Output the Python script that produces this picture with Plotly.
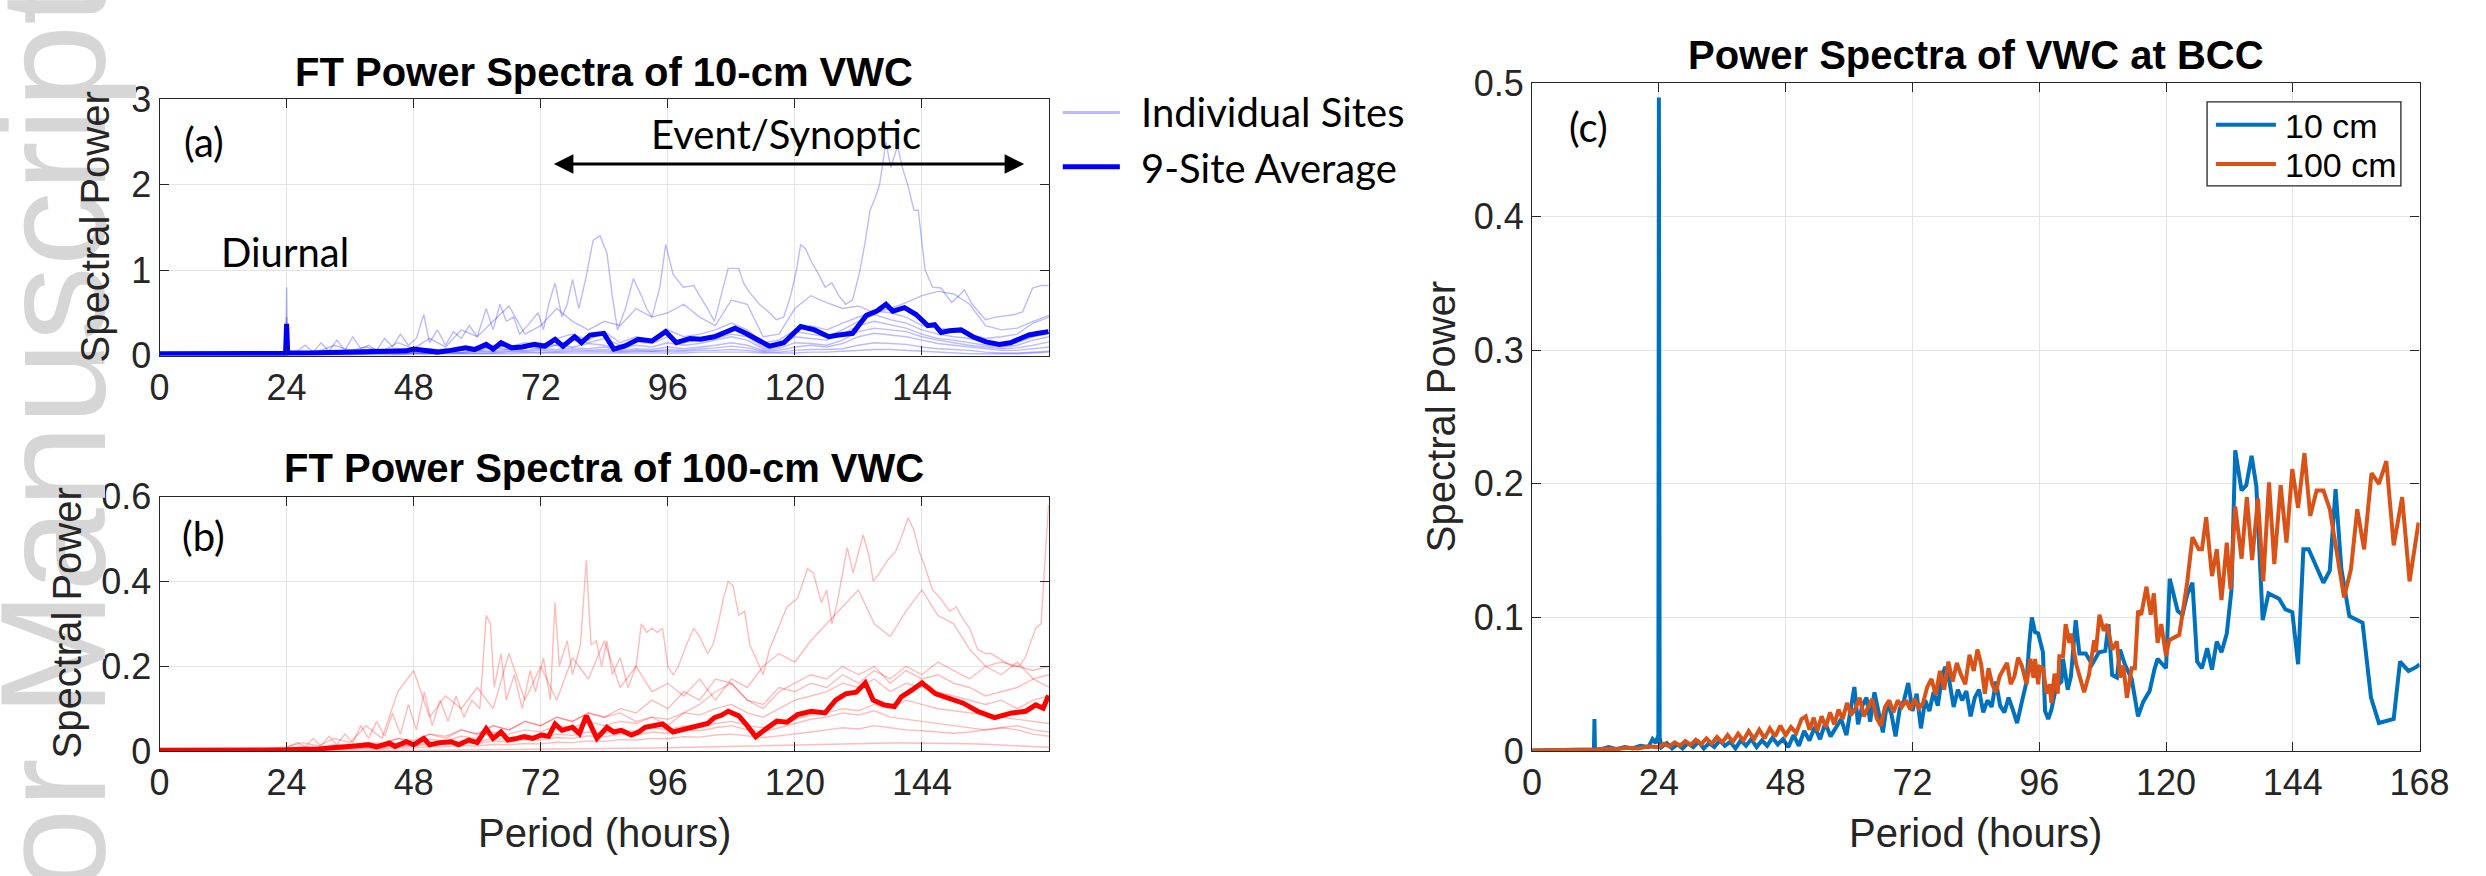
import plotly.graph_objects as go

W, H = 2486, 876

# ---------------- data ----------------
# panels (a) and (b): individual-site spectra (period in hours)
GRID_A = [0, 12, 23.8, 24, 24.2, 27, 30, 33, 36, 39, 42, 45, 48, 51, 54, 57, 60, 63, 66, 69, 72, 75,
          78, 81, 84, 87, 90, 93, 96, 99, 102, 105, 108, 111, 114, 117, 120, 123, 126, 129, 132, 135,
          138, 141, 144, 147, 150, 153, 156, 159, 162, 165, 168]
SITE_A1_PERIOD = [0, 12, 23.8, 24, 24.2, 26, 27.5, 29, 30.5, 32, 33.5, 35, 36.5, 38, 39.5, 41, 42.5, 44, 45.5, 47, 48.5, 49.9, 51, 52.5, 54, 55.5, 57, 58.5, 60, 61.7, 63, 64.3, 65.5, 66.9, 68, 69.5, 71.5, 72.5, 73.5, 74.7, 76, 77, 78, 79.2, 80.5, 81.9, 83.2, 84.5, 85.5, 86.5, 88, 89.5, 91, 92, 93, 94.5, 95.6, 97, 98.9, 100.9, 102, 103.5, 104.8, 106, 107.4, 109.4, 110.3, 111.3, 113.3, 115.2, 116.5, 117.9, 119.2, 120.3, 121.1, 122, 123.1, 124.5, 125.7, 127, 128.3, 129.6, 130.9, 132.2, 133.2, 134.2, 135.2, 136, 137.2, 138.1, 139.4, 140.3, 141.3, 142.5, 143.3, 144.6, 146, 147.6, 149.6, 151, 152, 153.5, 156, 158, 160, 161.5, 163, 164.9, 166.5, 167.9]
SITE_A1 = [0.02, 0.02, 0.03, 0.80, 0.04, 0.05, 0.12, 0.04, 0.15, 0.05, 0.18, 0.06, 0.22, 0.08, 0.12, 0.06, 0.20, 0.10, 0.25, 0.12, 0.20, 0.48, 0.15, 0.30, 0.12, 0.28, 0.20, 0.35, 0.22, 0.55, 0.30, 0.60, 0.40, 0.45, 0.25, 0.35, 0.50, 0.30, 0.60, 0.85, 0.45, 0.60, 0.89, 0.55, 0.90, 1.35, 1.40, 1.20, 0.70, 0.30, 0.55, 0.90, 0.70, 0.55, 0.45, 0.80, 1.30, 0.95, 0.80, 0.82, 0.70, 0.55, 0.40, 0.70, 1.02, 1.02, 0.85, 0.75, 0.60, 0.50, 0.42, 0.45, 0.70, 1.00, 1.30, 1.25, 1.10, 0.95, 0.80, 0.85, 0.70, 0.60, 0.65, 0.97, 1.30, 1.70, 1.85, 2.00, 2.50, 2.20, 2.45, 2.20, 2.00, 1.70, 1.70, 1.00, 0.80, 0.79, 0.62, 0.70, 0.77, 0.60, 0.42, 0.45, 0.47, 0.48, 0.51, 0.79, 0.82, 0.82]
SITE_A2 = [0.02, 0.02, 0.02, 0.45, 0.03, 0.04, 0.05, 0.12, 0.06, 0.10, 0.05, 0.15, 0.08, 0.20, 0.10, 0.30, 0.22, 0.40, 0.58, 0.25, 0.35, 0.55, 0.40, 0.30, 0.40, 0.35, 0.55, 0.45, 0.50, 0.60, 0.45, 0.35, 0.65, 0.60, 0.22, 0.25, 0.55, 0.70, 0.62, 0.55, 0.58, 0.50, 0.55, 0.62, 0.70, 0.75, 0.72, 0.60, 0.35, 0.30, 0.32, 0.40, 0.47]
SITE_A3 = [0.01, 0.01, 0.02, 0.30, 0.02, 0.03, 0.04, 0.03, 0.06, 0.04, 0.05, 0.07, 0.05, 0.08, 0.06, 0.10, 0.08, 0.12, 0.10, 0.15, 0.12, 0.20, 0.25, 0.18, 0.28, 0.15, 0.22, 0.18, 0.30, 0.22, 0.25, 0.30, 0.38, 0.30, 0.15, 0.18, 0.30, 0.35, 0.30, 0.38, 0.45, 0.52, 0.50, 0.45, 0.35, 0.32, 0.30, 0.25, 0.20, 0.22, 0.25, 0.38, 0.45]
SITE_A4 = [0.01, 0.01, 0.01, 0.25, 0.01, 0.02, 0.03, 0.02, 0.04, 0.03, 0.05, 0.04, 0.06, 0.05, 0.08, 0.06, 0.10, 0.08, 0.12, 0.09, 0.14, 0.12, 0.18, 0.15, 0.20, 0.12, 0.16, 0.14, 0.22, 0.15, 0.18, 0.20, 0.25, 0.22, 0.10, 0.12, 0.28, 0.25, 0.22, 0.30, 0.40, 0.48, 0.42, 0.38, 0.30, 0.25, 0.22, 0.20, 0.15, 0.12, 0.15, 0.22, 0.26]
SITE_A5 = [0.01, 0.01, 0.01, 0.35, 0.01, 0.02, 0.02, 0.03, 0.02, 0.04, 0.03, 0.05, 0.04, 0.06, 0.05, 0.07, 0.06, 0.09, 0.07, 0.10, 0.08, 0.12, 0.10, 0.14, 0.12, 0.08, 0.12, 0.10, 0.15, 0.12, 0.14, 0.18, 0.22, 0.18, 0.08, 0.10, 0.22, 0.20, 0.18, 0.25, 0.35, 0.40, 0.36, 0.32, 0.25, 0.20, 0.18, 0.15, 0.12, 0.10, 0.12, 0.18, 0.22]
SITE_A6 = [0.01, 0.01, 0.01, 0.20, 0.01, 0.01, 0.02, 0.02, 0.03, 0.02, 0.03, 0.03, 0.04, 0.03, 0.05, 0.04, 0.06, 0.05, 0.07, 0.06, 0.08, 0.07, 0.09, 0.08, 0.10, 0.06, 0.08, 0.07, 0.10, 0.08, 0.10, 0.12, 0.15, 0.12, 0.06, 0.08, 0.15, 0.14, 0.12, 0.18, 0.28, 0.32, 0.30, 0.28, 0.22, 0.18, 0.15, 0.12, 0.10, 0.08, 0.09, 0.12, 0.16]
SITE_A7 = [0.01, 0.01, 0.01, 0.15, 0.01, 0.01, 0.01, 0.02, 0.02, 0.02, 0.03, 0.02, 0.03, 0.03, 0.04, 0.03, 0.05, 0.04, 0.05, 0.05, 0.06, 0.05, 0.07, 0.06, 0.07, 0.05, 0.06, 0.05, 0.07, 0.06, 0.08, 0.09, 0.11, 0.09, 0.05, 0.06, 0.10, 0.12, 0.10, 0.14, 0.22, 0.26, 0.24, 0.22, 0.18, 0.14, 0.12, 0.10, 0.08, 0.06, 0.06, 0.08, 0.10]
SITE_A8 = [0.01, 0.01, 0.01, 0.10, 0.01, 0.01, 0.01, 0.01, 0.01, 0.02, 0.02, 0.02, 0.02, 0.02, 0.03, 0.03, 0.03, 0.03, 0.04, 0.04, 0.04, 0.04, 0.05, 0.05, 0.05, 0.04, 0.05, 0.05, 0.05, 0.05, 0.06, 0.06, 0.07, 0.06, 0.04, 0.04, 0.06, 0.07, 0.07, 0.08, 0.12, 0.15, 0.14, 0.13, 0.10, 0.08, 0.07, 0.06, 0.04, 0.03, 0.03, 0.04, 0.05]
SITE_A9 = [0.01, 0.01, 0.01, 0.12, 0.01, 0.01, 0.01, 0.01, 0.01, 0.01, 0.01, 0.01, 0.02, 0.02, 0.02, 0.02, 0.02, 0.02, 0.02, 0.03, 0.03, 0.03, 0.03, 0.03, 0.03, 0.03, 0.03, 0.03, 0.03, 0.03, 0.04, 0.04, 0.04, 0.04, 0.03, 0.03, 0.03, 0.04, 0.04, 0.05, 0.06, 0.07, 0.07, 0.06, 0.05, 0.04, 0.03, 0.02, 0.02, 0.02, 0.02, 0.03, 0.04]

AVG_A_PERIOD = [0, 12, 23.8, 24.0, 24.2, 28, 32, 36, 40, 44, 46.6, 48, 50, 52.5, 55, 57.8, 59.5, 61.7, 63, 64.5, 66.5, 68.5, 70.8, 72.8, 74.7, 76.2, 78.4, 79.7, 81.3, 83.9, 85.8, 87.8, 90.4, 93, 95.6, 97.6, 100.2, 102.2, 104.8, 106.8, 108.7, 110.7, 112.6, 115.2, 117.9, 121.1, 123.7, 126.4, 128.3, 130.9, 133.5, 135.5, 137.2, 138.5, 140.7, 142.9, 145.1, 146.4, 147.6, 149.2, 151.4, 153.6, 156.1, 158.6, 160.7, 162.5, 164.2, 166, 167.9]
AVG_A_POWER = [0.02, 0.02, 0.025, 0.37, 0.03, 0.03, 0.035, 0.04, 0.04, 0.05, 0.055, 0.075, 0.06, 0.04, 0.06, 0.09, 0.07, 0.13, 0.075, 0.15, 0.09, 0.10, 0.13, 0.11, 0.19, 0.11, 0.22, 0.15, 0.24, 0.26, 0.075, 0.11, 0.19, 0.17, 0.28, 0.15, 0.20, 0.19, 0.22, 0.27, 0.32, 0.26, 0.19, 0.11, 0.15, 0.34, 0.30, 0.22, 0.24, 0.26, 0.47, 0.52, 0.60, 0.52, 0.56, 0.48, 0.35, 0.36, 0.27, 0.29, 0.30, 0.22, 0.16, 0.13, 0.15, 0.20, 0.24, 0.26, 0.28]

GRID_B = [0, 12, 18, 24, 27, 30, 33, 36, 39, 42, 45, 48, 51, 54, 57, 60, 63, 66, 69, 72, 75, 78, 81,
          84, 87, 90, 93, 96, 99, 102, 105, 108, 111, 114, 117, 120, 123, 126, 129, 132, 135, 138, 141,
          144, 147, 150, 153, 156, 159, 162, 165, 168]
SITE_B1_PERIOD = [0, 12, 18, 24, 26, 27.5, 29, 30.5, 32, 33.5, 35, 36.5, 38, 39.5, 41, 42.5, 44, 45.5, 47, 48.5, 50, 51.5, 53, 54.5, 56, 57.5, 59, 60.5, 61.7, 62.5, 63.2, 64.5, 65.5, 67, 68.5, 70, 71, 72.5, 73.8, 74.7, 75.5, 77, 78, 79.5, 80.6, 81.5, 82.5, 83.5, 84.5, 85.5, 87, 88.5, 90, 91, 92, 93, 94, 95, 96, 97, 98, 99.5, 100.9, 102, 103.5, 104.5, 105.5, 106.5, 107.4, 108.3, 109.4, 110.5, 111.5, 112.6, 114, 115.2, 116.5, 118.5, 120.5, 122.4, 123.5, 125, 126, 127, 128, 129.9, 131, 132.9, 134, 134.8, 136, 137.5, 139, 140, 141.4, 142.5, 143.5, 144.7, 146, 147.5, 149.2, 150.5, 151.8, 153, 154.5, 156, 157, 158.5, 159.7, 161, 162.3, 163.5, 165.5, 166.5, 167.5, 167.9]
SITE_B1 = [0.001, 0.002, 0.004, 0.008, 0.02, 0.01, 0.03, 0.012, 0.035, 0.015, 0.04, 0.02, 0.06, 0.03, 0.07, 0.035, 0.09, 0.04, 0.11, 0.05, 0.14, 0.06, 0.12, 0.07, 0.13, 0.08, 0.12, 0.10, 0.32, 0.30, 0.15, 0.23, 0.12, 0.18, 0.10, 0.19, 0.14, 0.22, 0.12, 0.35, 0.20, 0.26, 0.18, 0.25, 0.45, 0.25, 0.26, 0.20, 0.26, 0.18, 0.22, 0.15, 0.20, 0.30, 0.28, 0.29, 0.28, 0.29, 0.20, 0.18, 0.20, 0.25, 0.29, 0.27, 0.23, 0.25, 0.30, 0.36, 0.40, 0.39, 0.32, 0.33, 0.25, 0.22, 0.18, 0.24, 0.28, 0.34, 0.36, 0.43, 0.42, 0.35, 0.38, 0.30, 0.35, 0.48, 0.42, 0.51, 0.46, 0.40, 0.42, 0.45, 0.47, 0.50, 0.55, 0.52, 0.47, 0.43, 0.38, 0.36, 0.33, 0.34, 0.31, 0.29, 0.24, 0.23, 0.23, 0.22, 0.21, 0.20, 0.20, 0.22, 0.29, 0.30, 0.50, 0.58]
SITE_B2 = [0.001, 0.002, 0.004, 0.01, 0.02, 0.012, 0.03, 0.02, 0.06, 0.03, 0.14, 0.19, 0.08, 0.13, 0.10, 0.15, 0.10, 0.23, 0.12, 0.20, 0.12, 0.22, 0.17, 0.26, 0.15, 0.20, 0.14, 0.16, 0.13, 0.17, 0.12, 0.17, 0.15, 0.20, 0.23, 0.21, 0.26, 0.30, 0.34, 0.38, 0.30, 0.27, 0.33, 0.38, 0.32, 0.30, 0.24, 0.20, 0.18, 0.21, 0.17, 0.18]
SITE_B3 = [0.001, 0.002, 0.003, 0.005, 0.008, 0.006, 0.012, 0.01, 0.02, 0.015, 0.03, 0.02, 0.04, 0.03, 0.05, 0.04, 0.06, 0.05, 0.07, 0.06, 0.08, 0.07, 0.09, 0.08, 0.10, 0.09, 0.12, 0.10, 0.14, 0.12, 0.17, 0.16, 0.12, 0.10, 0.14, 0.16, 0.18, 0.17, 0.20, 0.18, 0.20, 0.16, 0.19, 0.17, 0.18, 0.16, 0.15, 0.13, 0.14, 0.15, 0.17, 0.15]
SITE_B4 = [0.001, 0.001, 0.002, 0.004, 0.006, 0.005, 0.009, 0.008, 0.014, 0.012, 0.02, 0.018, 0.028, 0.024, 0.035, 0.03, 0.045, 0.04, 0.05, 0.045, 0.06, 0.055, 0.07, 0.06, 0.07, 0.065, 0.08, 0.075, 0.09, 0.085, 0.10, 0.11, 0.09, 0.08, 0.10, 0.12, 0.13, 0.14, 0.16, 0.15, 0.17, 0.14, 0.16, 0.15, 0.14, 0.13, 0.12, 0.11, 0.12, 0.10, 0.12, 0.13]
SITE_B5 = [0.001, 0.001, 0.002, 0.003, 0.004, 0.004, 0.006, 0.006, 0.009, 0.008, 0.012, 0.011, 0.016, 0.015, 0.02, 0.018, 0.024, 0.022, 0.028, 0.026, 0.032, 0.03, 0.036, 0.034, 0.04, 0.038, 0.045, 0.042, 0.05, 0.048, 0.055, 0.06, 0.05, 0.045, 0.055, 0.065, 0.075, 0.08, 0.09, 0.085, 0.095, 0.08, 0.075, 0.07, 0.065, 0.06, 0.055, 0.05, 0.055, 0.06, 0.05, 0.045]
SITE_B6 = [0.001, 0.001, 0.001, 0.002, 0.003, 0.003, 0.004, 0.004, 0.006, 0.005, 0.008, 0.007, 0.01, 0.01, 0.013, 0.012, 0.016, 0.015, 0.018, 0.017, 0.021, 0.02, 0.024, 0.023, 0.027, 0.026, 0.03, 0.029, 0.034, 0.033, 0.038, 0.04, 0.036, 0.032, 0.036, 0.04, 0.045, 0.05, 0.055, 0.052, 0.06, 0.055, 0.05, 0.048, 0.045, 0.042, 0.045, 0.05, 0.055, 0.05, 0.04, 0.035]
SITE_B7 = [0.001, 0.002, 0.003, 0.006, 0.01, 0.008, 0.015, 0.012, 0.02, 0.018, 0.03, 0.025, 0.04, 0.035, 0.05, 0.04, 0.06, 0.05, 0.07, 0.06, 0.08, 0.07, 0.09, 0.08, 0.09, 0.07, 0.08, 0.06, 0.09, 0.11, 0.14, 0.16, 0.12, 0.11, 0.15, 0.14, 0.16, 0.15, 0.18, 0.16, 0.19, 0.17, 0.20, 0.18, 0.21, 0.19, 0.17, 0.20, 0.21, 0.20, 0.19, 0.20]
SITE_B8 = [0.0005, 0.0005, 0.0005, 0.0008, 0.001, 0.001, 0.0012, 0.0012, 0.0014, 0.0015, 0.0016, 0.0018, 0.002, 0.0022, 0.0025, 0.0028, 0.003, 0.0033, 0.0036, 0.004, 0.0043, 0.0047, 0.005, 0.0055, 0.006, 0.0066, 0.0072, 0.008, 0.0088, 0.0096, 0.0105, 0.0115, 0.0125, 0.0135, 0.0145, 0.0155, 0.0163, 0.017, 0.0177, 0.0183, 0.0187, 0.019, 0.0191, 0.019, 0.0186, 0.018, 0.0172, 0.016, 0.0145, 0.0128, 0.011, 0.009]
SITE_B9 = [0.001, 0.001, 0.002, 0.004, 0.006, 0.005, 0.008, 0.007, 0.011, 0.01, 0.015, 0.013, 0.02, 0.018, 0.024, 0.022, 0.03, 0.027, 0.035, 0.032, 0.04, 0.037, 0.045, 0.042, 0.05, 0.047, 0.055, 0.05, 0.06, 0.055, 0.065, 0.07, 0.06, 0.055, 0.065, 0.075, 0.085, 0.09, 0.10, 0.095, 0.11, 0.10, 0.12, 0.11, 0.10, 0.095, 0.09, 0.085, 0.08, 0.075, 0.07, 0.065]

AVG_B_PERIOD = [0, 12, 24, 30, 34, 36.8, 39.5, 41, 43.4, 44.5, 46.6, 48, 49.9, 51, 53, 55.1, 56.5, 58.4, 60, 61.7, 63, 64.5, 65.8, 67.5, 68.9, 70.5, 72.1, 73.5, 74.7, 76, 78, 79.3, 80.6, 82.6, 84.5, 85.8, 87.2, 89.1, 90.5, 91.7, 93.5, 95, 97, 98.5, 100.2, 102.2, 103.5, 104.8, 106.2, 107.4, 109.4, 111, 112.6, 114.6, 116.6, 118.5, 120.5, 123.1, 125.7, 127.7, 129.6, 131.6, 133.3, 134.8, 136.8, 138.8, 140.1, 142, 144, 146.6, 149.2, 151.8, 154.5, 157.7, 161, 163.6, 165.5, 166.9, 167.9]
AVG_B_POWER = [0.002, 0.002, 0.003, 0.005, 0.008, 0.011, 0.015, 0.010, 0.019, 0.011, 0.022, 0.015, 0.030, 0.015, 0.020, 0.022, 0.015, 0.026, 0.020, 0.053, 0.030, 0.045, 0.026, 0.030, 0.034, 0.030, 0.038, 0.035, 0.064, 0.049, 0.056, 0.041, 0.083, 0.030, 0.056, 0.045, 0.049, 0.038, 0.045, 0.056, 0.060, 0.064, 0.045, 0.050, 0.056, 0.060, 0.065, 0.079, 0.085, 0.094, 0.083, 0.060, 0.034, 0.053, 0.071, 0.068, 0.086, 0.094, 0.090, 0.120, 0.135, 0.139, 0.161, 0.120, 0.109, 0.105, 0.128, 0.143, 0.161, 0.135, 0.124, 0.113, 0.094, 0.079, 0.090, 0.094, 0.109, 0.101, 0.131]

# panel (c): BCC site
C10_PERIOD = [0, 2, 4, 6, 8, 10, 11.7, 11.8, 11.9, 13, 14.5, 16, 17.5, 19, 20.5, 22, 22.8, 23.4, 23.9, 24.0, 24.15, 24.5, 25.5, 26.5, 27.5, 28.5, 29.5, 30.5, 31.5, 32.5, 33.5, 34.5, 35.5, 36.5, 37.5, 38.5, 39.5, 40.5, 41.5, 42.5, 43.5, 44.5, 45.5, 46.5, 47.5, 48.5, 49.5, 50.5, 51.5, 52.5, 53.5, 54.5, 55.5, 56.5, 57.5, 58.5, 59.5, 60.3, 61.0, 61.7, 62.5, 63.3, 64.0, 64.8, 65.6, 66.4, 67.2, 68.0, 68.8, 69.6, 70.4, 71.2, 72.0, 72.8, 73.6, 74.4, 75.2, 76.0, 76.8, 77.6, 78.2, 79.0, 79.8, 80.6, 81.4, 82.2, 83.0, 83.8, 84.6, 85.4, 86.2, 87.0, 87.8, 88.6, 89.4, 90.2, 91.0, 91.8, 92.6, 93.2, 93.6, 94.1, 94.6, 95.2, 95.8, 96.7, 97.1, 97.7, 98.3, 99.2, 100.2, 100.5, 101.4, 102.0, 102.9, 103.6, 104.8, 106.0, 107.3, 108.5, 109.1, 109.8, 110.7, 111.3, 112.2, 113.5, 114.7, 115.7, 116.9, 117.8, 118.4, 120.0, 120.7, 122.2, 123.1, 124.0, 125.0, 125.9, 126.8, 127.8, 128.7, 129.6, 130.5, 131.5, 132.4, 133.1, 134.3, 135.2, 136.2, 137.1, 138.3, 139.4, 141.4, 142.6, 143.9, 145.0, 146.0, 147.0, 149.8, 151.0, 152.1, 153.2, 154.7, 157.2, 158.8, 160.3, 163.1, 164.3, 165.9, 167.4, 168.0]
C10_POWER = [0.0005, 0.0005, 0.0006, 0.0006, 0.0008, 0.0010, 0.0012, 0.024, 0.0012, 0.0015, 0.003, 0.0015, 0.003, 0.002, 0.004, 0.003, 0.009, 0.006, 0.012, 0.489, 0.010, 0.003, 0.006, 0.002, 0.005, 0.002, 0.006, 0.003, 0.007, 0.002, 0.006, 0.003, 0.008, 0.004, 0.007, 0.002, 0.008, 0.004, 0.009, 0.003, 0.008, 0.004, 0.010, 0.005, 0.009, 0.003, 0.012, 0.004, 0.015, 0.008, 0.018, 0.009, 0.021, 0.011, 0.017, 0.024, 0.012, 0.030, 0.048, 0.020, 0.034, 0.040, 0.022, 0.044, 0.030, 0.014, 0.036, 0.028, 0.011, 0.032, 0.038, 0.051, 0.030, 0.043, 0.017, 0.038, 0.030, 0.044, 0.034, 0.056, 0.063, 0.052, 0.033, 0.046, 0.038, 0.045, 0.026, 0.040, 0.046, 0.029, 0.038, 0.033, 0.052, 0.034, 0.029, 0.040, 0.031, 0.021, 0.035, 0.045, 0.052, 0.080, 0.100, 0.089, 0.088, 0.074, 0.030, 0.024, 0.031, 0.048, 0.052, 0.069, 0.046, 0.056, 0.098, 0.073, 0.073, 0.065, 0.074, 0.075, 0.095, 0.057, 0.055, 0.076, 0.065, 0.054, 0.026, 0.037, 0.045, 0.061, 0.069, 0.062, 0.129, 0.105, 0.102, 0.117, 0.126, 0.067, 0.062, 0.077, 0.061, 0.082, 0.074, 0.088, 0.121, 0.225, 0.195, 0.199, 0.221, 0.198, 0.098, 0.118, 0.114, 0.106, 0.104, 0.065, 0.151, 0.151, 0.126, 0.135, 0.196, 0.136, 0.101, 0.096, 0.040, 0.021, 0.024, 0.067, 0.060, 0.063, 0.065]
C100_PERIOD = [0, 3, 6, 9, 12, 14, 16, 18, 20, 22, 24, 25, 26, 27, 28, 29, 30, 31, 32, 33, 34, 35, 36, 37, 38, 39, 40, 41, 42, 43, 44, 45, 46, 47, 48, 49, 50, 51, 51.8, 52.5, 53.3, 54, 54.8, 55.6, 56.4, 57.2, 58, 58.8, 59.6, 60.4, 61.2, 62, 62.8, 63.6, 64.4, 65.2, 66, 66.8, 67.6, 68.4, 69.2, 70, 70.8, 71.6, 72.4, 73.2, 74, 74.8, 75.6, 76.4, 77.2, 78, 78.8, 79.6, 80.4, 81.2, 82, 82.8, 83.6, 84.3, 85, 85.7, 86.4, 87.1, 87.8, 88.5, 89.2, 89.9, 90.6, 91.3, 92, 92.7, 93.6, 94.3, 94.9, 95.2, 95.8, 96.1, 96.7, 97.4, 98.0, 98.3, 98.9, 99.5, 99.8, 100.5, 101.0, 101.7, 102.0, 103.0, 104.5, 105.4, 106.4, 106.7, 107.4, 108.2, 108.8, 109.8, 110.7, 111.3, 111.9, 112.6, 113.5, 114.1, 114.7, 115.3, 116.3, 117.1, 117.7, 118.4, 119.1, 120.0, 120.6, 122.5, 124.0, 125.0, 126.2, 126.8, 127.6, 128.7, 129.6, 130.5, 131.5, 132.2, 133.1, 134.3, 135.3, 136.3, 137.4, 138.4, 139.5, 140.5, 141.7, 142.8, 143.9, 145.0, 146.2, 147.3, 148.5, 149.8, 151.0, 152.2, 153.7, 155.0, 156.2, 157.5, 158.9, 160.3, 161.7, 163.1, 164.7, 166.1, 167.8]
C100_POWER = [0.0005, 0.0006, 0.0008, 0.0010, 0.0012, 0.0018, 0.0015, 0.0025, 0.0020, 0.0035, 0.0030, 0.0055, 0.0035, 0.0065, 0.0040, 0.0075, 0.0045, 0.0085, 0.0050, 0.0095, 0.0055, 0.0105, 0.0065, 0.0120, 0.0070, 0.0130, 0.0080, 0.0150, 0.0090, 0.0160, 0.0095, 0.0170, 0.0110, 0.0190, 0.0120, 0.0180, 0.0135, 0.0240, 0.0260, 0.0160, 0.0250, 0.0150, 0.0260, 0.0180, 0.0290, 0.0200, 0.0310, 0.0240, 0.0360, 0.0270, 0.0320, 0.0400, 0.0260, 0.0330, 0.0390, 0.0250, 0.0190, 0.0330, 0.0380, 0.0290, 0.0380, 0.0330, 0.0380, 0.0310, 0.0390, 0.0320, 0.0360, 0.0480, 0.0540, 0.0420, 0.0600, 0.0460, 0.0670, 0.0520, 0.0660, 0.0570, 0.0500, 0.0720, 0.0600, 0.0760, 0.0650, 0.0430, 0.0620, 0.0500, 0.0440, 0.0560, 0.0610, 0.0660, 0.0500, 0.0560, 0.0700, 0.0640, 0.050, 0.069, 0.055, 0.069, 0.050, 0.063, 0.062, 0.043, 0.050, 0.036, 0.058, 0.043, 0.071, 0.071, 0.095, 0.081, 0.088, 0.065, 0.044, 0.057, 0.083, 0.074, 0.102, 0.090, 0.095, 0.076, 0.082, 0.055, 0.064, 0.040, 0.062, 0.062, 0.105, 0.102, 0.123, 0.102, 0.118, 0.081, 0.095, 0.071, 0.083, 0.087, 0.126, 0.160, 0.151, 0.151, 0.175, 0.131, 0.151, 0.113, 0.156, 0.121, 0.183, 0.144, 0.190, 0.143, 0.189, 0.127, 0.201, 0.140, 0.199, 0.156, 0.211, 0.182, 0.223, 0.176, 0.195, 0.195, 0.181, 0.151, 0.115, 0.136, 0.181, 0.151, 0.208, 0.200, 0.217, 0.154, 0.190, 0.127, 0.171]

SITES_A = [(SITE_A1_PERIOD, SITE_A1), (GRID_A, SITE_A2), (GRID_A, SITE_A3), (GRID_A, SITE_A4),
           (GRID_A, SITE_A5), (GRID_A, SITE_A6), (GRID_A, SITE_A7), (GRID_A, SITE_A8), (GRID_A, SITE_A9)]
SITES_B = [(SITE_B1_PERIOD, SITE_B1), (GRID_B, SITE_B2), (GRID_B, SITE_B3), (GRID_B, SITE_B4),
           (GRID_B, SITE_B5), (GRID_B, SITE_B6), (GRID_B, SITE_B7), (GRID_B, SITE_B8), (GRID_B, SITE_B9)]
for p, s in SITES_A + SITES_B:
    assert len(p) == len(s)
assert len(AVG_A_PERIOD) == len(AVG_A_POWER)
assert len(AVG_B_PERIOD) == len(AVG_B_POWER)
assert len(C10_PERIOD) == len(C10_POWER)
assert len(C100_PERIOD) == len(C100_POWER)

X_TICKS_AB = [0, 24, 48, 72, 96, 120, 144]
X_TICKS_C = [0, 24, 48, 72, 96, 120, 144, 168]
Y_TICKS_A = [0, 1, 2, 3]
Y_TICKS_B = [0, 0.2, 0.4, 0.6]
Y_TICK_TEXT_B = ["0", "0.2", "0.4", "0.6"]
Y_TICKS_C = [0, 0.1, 0.2, 0.3, 0.4, 0.5]
Y_TICK_TEXT_C = ["0", "0.1", "0.2", "0.3", "0.4", "0.5"]

# ---------------- figure ----------------
LIGHT_BLUE = "rgba(0,0,255,0.27)"
DARK_BLUE = "#0000f5"
LIGHT_RED = "rgba(255,0,0,0.27)"
DARK_RED = "#ff0000"
C_BLUE = "#0072bd"
C_ORANGE = "#d95319"

fig = go.Figure()
for p, s in SITES_A:
    fig.add_trace(go.Scatter(x=p, y=s, mode="lines", line=dict(color=LIGHT_BLUE, width=1.4),
                             xaxis="x", yaxis="y", showlegend=False, hoverinfo="skip"))
fig.add_trace(go.Scatter(x=AVG_A_PERIOD, y=AVG_A_POWER, mode="lines", line=dict(color=DARK_BLUE, width=5),
                         xaxis="x", yaxis="y", showlegend=False))
for p, s in SITES_B:
    fig.add_trace(go.Scatter(x=p, y=s, mode="lines", line=dict(color=LIGHT_RED, width=1.4),
                             xaxis="x2", yaxis="y2", showlegend=False, hoverinfo="skip"))
fig.add_trace(go.Scatter(x=AVG_B_PERIOD, y=AVG_B_POWER, mode="lines", line=dict(color=DARK_RED, width=5),
                         xaxis="x2", yaxis="y2", showlegend=False))
fig.add_trace(go.Scatter(x=C10_PERIOD, y=C10_POWER, mode="lines", line=dict(color=C_BLUE, width=4),
                         xaxis="x3", yaxis="y3", showlegend=False, name="10 cm"))
fig.add_trace(go.Scatter(x=C100_PERIOD, y=C100_POWER, mode="lines", line=dict(color=C_ORANGE, width=4),
                         xaxis="x3", yaxis="y3", showlegend=False, name="100 cm"))

AX = dict(showline=True, linecolor="#262626", linewidth=1.3, mirror="ticks", ticks="inside",
          ticklen=9, tickwidth=1.3, tickcolor="#262626", showgrid=True, gridcolor="#e4e4e4",
          gridwidth=1.3, zeroline=False, fixedrange=True,
          tickfont=dict(family="Liberation Sans, Arial, sans-serif", size=36, color="#262626"))

def px(v):
    return v / W

def py(v):
    return 1 - v / H

AB_DOM = [px(152), px(1056)]
C_DOM = [px(1547), px(2449)]

fig.update_layout(
    width=W, height=H, margin=dict(l=0, r=0, t=0, b=0),
    paper_bgcolor="white", plot_bgcolor="white", showlegend=False,
    xaxis=dict(AX, domain=AB_DOM, range=[0, 168], tickvals=X_TICKS_AB, anchor="y"),
    yaxis=dict(AX, domain=[py(352), py(83)], range=[0, 3], tickvals=Y_TICKS_A, anchor="x"),
    xaxis2=dict(AX, domain=AB_DOM, range=[0, 168], tickvals=X_TICKS_AB, anchor="y2"),
    yaxis2=dict(AX, domain=[py(767), py(500)], range=[0, 0.6], tickvals=Y_TICKS_B,
                ticktext=Y_TICK_TEXT_B, anchor="x2"),
    xaxis3=dict(AX, domain=C_DOM, range=[0, 168], tickvals=X_TICKS_C, anchor="y3"),
    yaxis3=dict(AX, domain=[py(767), py(66)], range=[0, 0.5], tickvals=Y_TICKS_C,
                ticktext=Y_TICK_TEXT_C, anchor="x3"),
)

HELV = "Liberation Sans, Arial, sans-serif"
CAL = "Lato, Carlito, Calibri, sans-serif"
ann = []
# faint watermark along the left edge (behind everything else)
ann.append(dict(text="Author Manuscript", x=px(44), y=py(600), xref="paper", yref="paper",
                showarrow=False, textangle=-90, xanchor="center", yanchor="middle",
                font=dict(family=HELV, size=150, color="#d6d6d6")))
# titles
for t, xc, yc in [("FT Power Spectra of 10-cm VWC", 604, 55),
                  ("FT Power Spectra of 100-cm VWC", 604, 470),
                  ("Power Spectra of VWC at BCC", 1998, 37)]:
    ann.append(dict(text="<b>" + t + "</b>", x=px(xc), y=py(yc), xref="paper", yref="paper",
                    showarrow=False, xanchor="center", yanchor="middle",
                    font=dict(family=HELV, size=40, color="black")))
# axis labels
for xc, yc in [(86, 217), (58, 633), (1454, 416)]:
    ann.append(dict(text="Spectral Power", x=px(xc), y=py(yc), xref="paper", yref="paper",
                    showarrow=False, textangle=-90, xanchor="center", yanchor="middle",
                    font=dict(family=HELV, size=40, color="#262626")))
for xc in [604, 1998]:
    ann.append(dict(text="Period (hours)", x=px(xc), y=py(853), xref="paper", yref="paper",
                    showarrow=False, xanchor="center", yanchor="middle",
                    font=dict(family=HELV, size=40, color="#262626")))
# panel letters and notes
for t, xc, yc in [("(a)", 197, 128), ("(b)", 197, 541), ("(c)", 1604, 112),
                  ("Diurnal", 279, 243), ("Event/Synoptic", 789, 120)]:
    ann.append(dict(text=t, x=px(xc), y=py(yc), xref="paper", yref="paper", showarrow=False,
                    xanchor="center", yanchor="middle", font=dict(family=CAL, size=40, color="black")))
# double arrow (event/synoptic band)
ann.append(dict(text="", x=163.3, y=2.24, ax=74.2, ay=2.24, xref="x", yref="y", axref="x", ayref="y",
                showarrow=True, arrowhead=2, startarrowhead=2, arrowside="end+start",
                arrowwidth=3, arrowsize=1.3, startarrowsize=1.3, arrowcolor="black"))
# legend texts
ann.append(dict(text="Individual Sites", x=px(1147), y=py(97), xref="paper", yref="paper",
                showarrow=False, xanchor="left", yanchor="middle", font=dict(family=CAL, size=40, color="black")))
ann.append(dict(text="9-Site Average", x=px(1147), y=py(155), xref="paper", yref="paper",
                showarrow=False, xanchor="left", yanchor="middle", font=dict(family=CAL, size=40, color="black")))
ann.append(dict(text="10 cm", x=px(2310), y=py(111), xref="paper", yref="paper",
                showarrow=False, xanchor="left", yanchor="middle", font=dict(family=HELV, size=34, color="black")))
ann.append(dict(text="100 cm", x=px(2310), y=py(152), xref="paper", yref="paper",
                showarrow=False, xanchor="left", yanchor="middle", font=dict(family=HELV, size=34, color="black")))
fig.update_layout(annotations=ann)

shapes = [
    dict(type="line", xref="paper", yref="paper", x0=px(1070), x1=px(1128), y0=py(97), y1=py(97),
         line=dict(color="#bcbcf6", width=3)),
    dict(type="line", xref="paper", yref="paper", x0=px(1070), x1=px(1128), y0=py(154), y1=py(154),
         line=dict(color=DARK_BLUE, width=5)),
    dict(type="rect", xref="paper", yref="paper", x0=px(2233), x1=px(2430), y0=py(174), y1=py(86),
         line=dict(color="#262626", width=1.3), fillcolor="white"),
    dict(type="line", xref="paper", yref="paper", x0=px(2242), x1=px(2303), y0=py(110), y1=py(110),
         line=dict(color=C_BLUE, width=4)),
    dict(type="line", xref="paper", yref="paper", x0=px(2242), x1=px(2303), y0=py(151), y1=py(151),
         line=dict(color=C_ORANGE, width=4)),
]
fig.update_layout(shapes=shapes)

fig.write_html("out.html")
